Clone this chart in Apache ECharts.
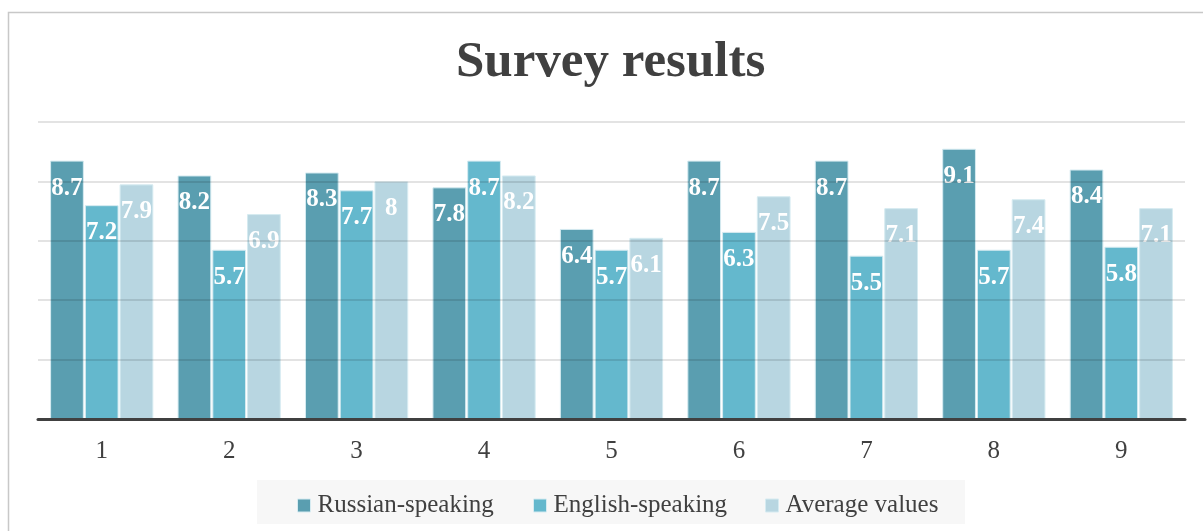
<!DOCTYPE html>
<html>
<head>
<meta charset="utf-8">
<script src="https://cdn.jsdelivr.net/npm/echarts@6/dist/echarts.min.js"></script>
<style>
html,body{margin:0;padding:0;background:#fff;}
#chart{width:1203px;height:531px;}
</style>
</head>
<body>
<div id="chart"></div>
<script>
const categories = ['1','2','3','4','5','6','7','8','9'];
const russian = [8.7, 8.2, 8.3, 7.8, 6.4, 8.7, 8.7, 9.1, 8.4];
const english = [7.2, 5.7, 7.7, 8.7, 5.7, 6.3, 5.5, 5.7, 5.8];
const average = [7.9, 6.9, 8, 8.2, 6.1, 7.5, 7.1, 7.4, 7.1];
const seriesNames = ['Russian-speaking', 'English-speaking', 'Average values'];
const colors = ['#5a9eb0', '#64b8cd', '#b8d6e1'];
const legendLefts = [297, 533, 765];

const FONT = '"Liberation Serif", "DejaVu Serif", serif';
const chart = echarts.init(document.getElementById('chart'));

function mk(name, data, color) {
  return {
    name: name,
    type: 'bar',
    data: data,
    barGap: '3%',
    barCategoryGap: '19%',
    itemStyle: { color: color, borderColor: '#d6ebf1', borderWidth: 1 },
    label: {
      show: true,
      position: 'insideTop',
      distance: 15,
      color: '#ffffff',
      fontFamily: FONT,
      fontWeight: 'bold',
      fontSize: 25
    }
  };
}

chart.setOption({
  animation: false,
  color: colors,
  title: {
    text: 'Survey results',
    left: 456,
    top: 37,
    padding: 0,
    textStyle: { fontFamily: FONT, fontWeight: 'bold', fontSize: 51, color: '#404040' }
  },
  graphic: [
    { type: 'rect', shape: { x: 8.5, y: 12.5, width: 1300, height: 600 },
      style: { fill: 'none', stroke: '#c8c8c8', lineWidth: 1.5 }, z: -10 },
    { type: 'rect', shape: { x: 257, y: 480, width: 708, height: 44 },
      style: { fill: '#f7f7f7' }, z: -5 }
  ],
  legend: seriesNames.map((n, i) => ({
    data: [n],
    left: legendLefts[i],
    top: 493,
    padding: 0,
    itemWidth: 13,
    itemHeight: 13,
    itemGap: 0,
    icon: 'rect',
    itemStyle: { borderColor: '#d6ebf1', borderWidth: 1 },
    textStyle: { fontFamily: FONT, fontSize: 25, color: '#404040', padding: [0, 0, 0, 2] }
  })),
  grid: { left: 38, right: 18, top: 122, bottom: 112 },
  xAxis: {
    type: 'category',
    data: categories,
    z: 4,
    axisLine: { lineStyle: { color: '#404040', width: 3 } },
    axisTick: { show: false },
    axisLabel: { fontFamily: FONT, fontSize: 25, color: '#404040', margin: 20 }
  },
  yAxis: {
    type: 'value',
    z: 3,
    min: 0, max: 10, interval: 2,
    axisLabel: { show: false },
    axisLine: { show: false },
    axisTick: { show: false },
    splitLine: { lineStyle: { color: 'rgba(0,0,0,0.15)', width: 1.5 } }
  },
  series: [
    mk(seriesNames[0], russian, colors[0]),
    mk(seriesNames[1], english, colors[1]),
    mk(seriesNames[2], average, colors[2])
  ]
});
</script>
</body>
</html>
